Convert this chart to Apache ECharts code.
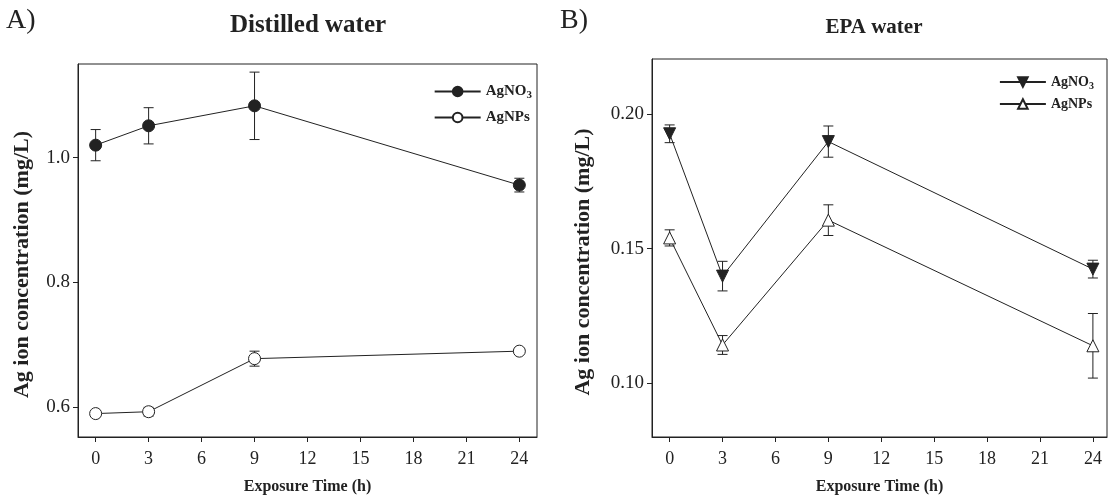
<!DOCTYPE html>
<html><head><meta charset="utf-8">
<script src="https://cdn.jsdelivr.net/npm/echarts@6/dist/echarts.min.js"></script>
<style>html,body{margin:0;padding:0;background:#fff}#c{width:1110px;height:500px}</style>
</head><body><div id="c"></div>
<script>
const xTicks = [0, 3, 6, 9, 12, 15, 18, 21, 24];
const times = [0, 3, 9, 24];
const distAgNO3 = [1.020, 1.051, 1.083, 0.956];
const distAgNO3Err = [0.025, 0.029, 0.054, 0.011];
const distAgNPs = [0.590, 0.593, 0.678, 0.690];
const distAgNPsErr = [0.002, 0.007, 0.012, 0.004];
const epaAgNO3 = [0.1927, 0.1398, 0.1898, 0.1424];
const epaAgNO3Err = [0.0033, 0.0055, 0.0058, 0.0033];
const epaAgNPs = [0.1540, 0.1142, 0.1606, 0.1139];
const epaAgNPsErr = [0.0030, 0.0035, 0.0057, 0.0120];
const distYTicks = [0.6, 0.8, 1.0];
const epaYTicks = [0.10, 0.15, 0.20];
const legendLabels = {dAgNO3: 'AgNO{s|3}', dAgNPs: 'AgNPs', eAgNO3: 'AgNO{s|3}', eAgNPs: 'AgNPs'};

const FONT = 'Liberation Serif';
const INK = '#222';

function pts(v) { return times.map((t, i) => [t, v[i]]); }
function errData(v, e) { return times.map((t, i) => [t, v[i], e[i]]); }
function errRender(params, api) {
  const x = api.value(0), y = api.value(1), e = api.value(2);
  const top = api.coord([x, y + e]);
  const bot = api.coord([x, y - e]);
  const hw = 5;
  const st = {stroke: INK, lineWidth: 1};
  return {type: 'group', children: [
    {type: 'line', shape: {x1: top[0], y1: top[1], x2: bot[0], y2: bot[1]}, style: st},
    {type: 'line', shape: {x1: top[0] - hw, y1: top[1], x2: top[0] + hw, y2: top[1]}, style: st},
    {type: 'line', shape: {x1: bot[0] - hw, y1: bot[1], x2: bot[0] + hw, y2: bot[1]}, style: st}
  ]};
}
function xAx(gi) {
  return {
    type: 'value', gridIndex: gi, min: -1, max: gi === 0 ? 25 : 24.8,
    name: 'Exposure Time (h)', nameLocation: 'middle', nameGap: 42,
    nameTextStyle: {fontFamily: FONT, fontWeight: 'bold', fontSize: 16, color: INK},
    axisLine: {show: true, onZero: false, lineStyle: {color: INK, width: 1}},
    axisTick: {show: true, length: 5, customValues: xTicks, lineStyle: {color: INK}},
    axisLabel: {customValues: xTicks, fontFamily: FONT, fontSize: 18, color: INK, margin: 13},
    splitLine: {show: false}
  };
}
function yAx(gi, min, max, ticks, digits, gap) {
  return {
    type: 'value', gridIndex: gi, min: min, max: max,
    name: 'Ag ion concentration (mg/L)', nameLocation: 'middle', nameGap: gap,
    nameTextStyle: {fontFamily: FONT, fontWeight: 'bold', fontSize: 22, color: INK, padding: [0, 28, 0, 0]},
    axisLine: {show: true, onZero: false, lineStyle: {color: INK, width: 1}},
    axisTick: {show: true, length: 5, customValues: ticks, lineStyle: {color: INK}},
    axisLabel: {customValues: ticks, fontFamily: FONT, fontSize: 19, color: INK, margin: 8,
      formatter: v => v.toFixed(digits)},
    splitLine: {show: false}
  };
}
function lineS(name, gi, v, symbol, fill, rot, size) {
  return {
    name: name, type: 'line', xAxisIndex: gi, yAxisIndex: gi, data: pts(v),
    symbol: symbol, symbolSize: size, symbolRotate: rot, showAllSymbol: true,
    lineStyle: {color: INK, width: 1}, itemStyle: {color: fill, borderColor: INK, borderWidth: 1},
    z: 3, animation: false
  };
}
function errS(gi, v, e) {
  return {type: 'custom', xAxisIndex: gi, yAxisIndex: gi, data: errData(v, e),
    renderItem: errRender, z: 2, silent: true, animation: false};
}
function legendOf(fs, gap, extra) {
  return Object.assign({
    orient: 'vertical', itemWidth: 46, itemHeight: 12, itemGap: gap, align: 'left',
    formatter: n => legendLabels[n],
    textStyle: {fontFamily: FONT, fontWeight: 'bold', fontSize: fs, color: INK,
      rich: {s: {fontFamily: FONT, fontWeight: 'bold', fontSize: fs - 4, color: INK, padding: [8, 0, 0, 0]}}},
    selectedMode: false
  }, extra);
}
const chart = echarts.init(document.getElementById('c'), null, {renderer: 'canvas'});
chart.setOption({
  backgroundColor: '#fff',
  animation: false,
  title: [
    {text: 'A)', left: 1, top: 2, textStyle: {fontFamily: FONT, fontWeight: 'normal', fontSize: 28, color: INK}},
    {text: 'Distilled water', left: 303, textAlign: 'center', top: 8, textStyle: {fontFamily: FONT, fontWeight: 'bold', fontSize: 25, color: INK}},
    {text: 'B)', left: 555, top: 2, textStyle: {fontFamily: FONT, fontWeight: 'normal', fontSize: 28, color: INK}},
    {text: 'EPA water', left: 869, textAlign: 'center', top: 12, textStyle: {fontFamily: FONT, fontWeight: 'bold', fontSize: 21, color: INK}}
  ],
  grid: [
    {left: 78, top: 64, width: 459, height: 378, show: true, borderColor: INK, borderWidth: 1, backgroundColor: 'transparent'},
    {left: 652, top: 59, width: 455, height: 384, show: true, borderColor: INK, borderWidth: 1, backgroundColor: 'transparent'}
  ],
  xAxis: [xAx(0), xAx(1)],
  yAxis: [yAx(0, 0.5525, 1.15, distYTicks, 1, 45), yAx(1, 0.08, 0.2205, epaYTicks, 2, 58)],
  legend: [
    legendOf(15, 9, {right: 573, top: 79, data: ['dAgNO3', 'dAgNPs']}),
    legendOf(14, 6, {right: 11, top: 70, data: ['eAgNO3', 'eAgNPs']})
  ],
  series: [
    errS(0, distAgNO3, distAgNO3Err),
    errS(0, distAgNPs, distAgNPsErr),
    lineS('dAgNO3', 0, distAgNO3, 'circle', INK, 0, 12),
    lineS('dAgNPs', 0, distAgNPs, 'circle', '#fff', 0, 12),
    errS(1, epaAgNO3, epaAgNO3Err),
    errS(1, epaAgNPs, epaAgNPsErr),
    lineS('eAgNO3', 1, epaAgNO3, 'triangle', INK, 180, 12),
    lineS('eAgNPs', 1, epaAgNPs, 'triangle', '#fff', 0, 12)
  ]
});
</script></body></html>
